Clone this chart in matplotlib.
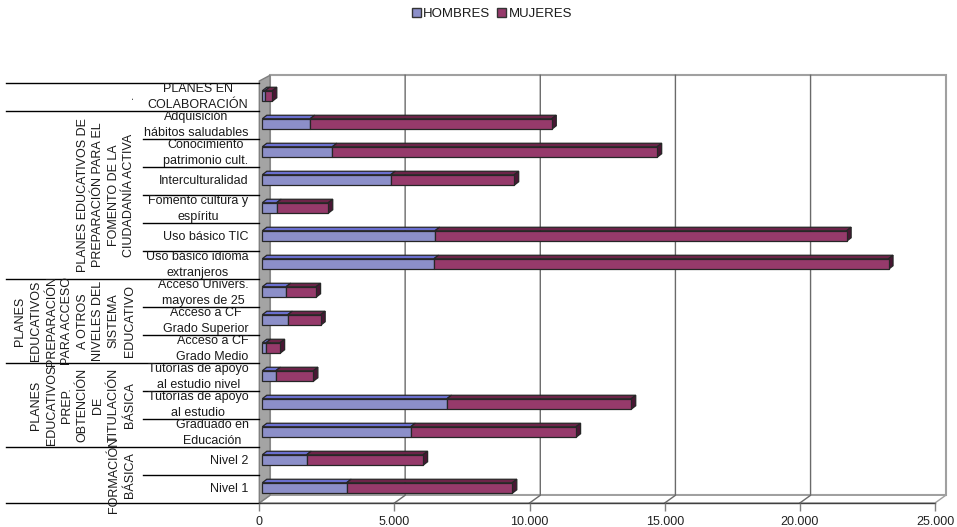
import numpy as np
import matplotlib.pyplot as plt
from matplotlib.patches import Polygon, Patch
from matplotlib import transforms

plt.rcParams['font.family'] = ['Liberation Sans', 'DejaVu Sans']

# categories from bottom to top
cats = ["Nivel 1", "Nivel 2", "Graduado en\nEducación",
        "Tutorías de apoyo\nal estudio", "Tutorías de apoyo\nal estudio nivel",
        "Acceso a CF\nGrado Medio", "Acceso a CF\nGrado Superior",
        "Acceso Univers.\nmayores de 25", "Uso básico idioma\nextranjeros",
        "Uso básico TIC", "Fomento cultura y\nespíritu", "Interculturalidad",
        "Conocimiento\npatrimonio cult.", "Adquisición\nhábitos saludables",
        "PLANES EN\nCOLABORACIÓN"]
hombres = [3120, 1640, 5490, 6830, 500, 140, 940, 880, 6350, 6390, 530, 4750, 2590, 1770, 100]
mujeres = [6130, 4310, 6120, 6820, 1390, 520, 1220, 1110, 16820, 15230, 1910, 4570, 12020, 8940, 270]

groups = ["FORMACIÓN\nBÁSICA",
          "PLANES\nEDUCATIVOS\nPREP.\nOBTENCIÓN\nDE\nTITULACIÓN\nBÁSICA",
          "PLANES\nEDUCATIVOS\nPREPARACIÓN\nPARA ACCESO\nA OTROS\nNIVELES DEL\nSISTEMA\nEDUCATIVO",
          "PLANES EDUCATIVOS DE\nPREPARACIÓN PARA EL\nFOMENTO DE LA\nCIUDADANÍA ACTIVA",
          "."]
group_sizes = [2, 3, 3, 6, 1]

ticks = [0, 5000, 10000, 15000, 20000, 25000]
tick_labels = ["0", "5.000", "10.000", "15.000", "20.000", "25.000"]

# colours: front, top, side
c_h = ("#8c8fc9", "#6a6fcf", "#3f4290")
c_m = ("#963a6b", "#6c2449", "#4a1634")
edge = "#262626"

W, H = 957, 527
fig = plt.figure(figsize=(W / 100, H / 100), dpi=100)

# front plane of the box in pixels
x0, x1 = 259.3, 935.0
y_top, y_bot = 83.0, 503.0
ax = fig.add_axes([x0 / W, 1 - y_bot / H, (x1 - x0) / W, (y_bot - y_top) / H])
n = len(cats)
xmax = ticks[-1]
ax.set_xlim(0, xmax)
ax.set_ylim(-0.5, n - 0.5)
ylo, yhi = -0.5, n - 0.5

ux = xmax / (x1 - x0)   # data units per pixel
uy = n / (y_bot - y_top)

DX, DY = 10.7 * ux, 7.7 * uy     # box depth
bx, by = 4.5 * ux, 3.5 * uy      # bar depth
fx, fy = 3.0 * ux, 1.0 * uy      # bar front face inset
bar_h = 10.5 * uy


def poly(pts, **kw):
    p = Polygon(pts, closed=True, clip_on=False, **kw)
    ax.add_patch(p)
    return p


# back wall, floor, grid, side wall
poly([(DX, ylo + DY), (xmax + DX, ylo + DY), (xmax + DX, yhi + DY), (DX, yhi + DY)],
     fc="white", ec="#a0a0a0", lw=1.5, zorder=0)
poly([(0, ylo), (xmax, ylo), (xmax + DX, ylo + DY), (DX, ylo + DY)],
     fc="white", ec="#a0a0a0", lw=1, zorder=0.2)
for v in ticks[1:-1]:
    ax.plot([v, v + DX, v + DX], [ylo, ylo + DY, yhi + DY], color="#6a6a6a",
            lw=1, clip_on=False, zorder=0.5)
poly([(0, ylo), (0, yhi + 2 * uy), (DX, yhi + DY), (DX, ylo + DY)],
     fc="#a4a4a4", ec="#7f7f7f", lw=1, zorder=0.6)
ax.plot([0, xmax], [ylo, ylo], color="#404040", lw=1, clip_on=False, zorder=0.7)

# 3d stacked bars
ys = np.arange(n) + fy
ax.barh(ys, hombres, left=fx, height=bar_h, color=c_h[0], edgecolor=edge, lw=0.9, zorder=3)
ax.barh(ys, mujeres, left=fx + np.array(hombres), height=bar_h, color=c_m[0],
        edgecolor=edge, lw=0.9, zorder=3)
for i in range(n):
    yt = ys[i] + bar_h / 2
    yb = ys[i] - bar_h / 2
    l = fx
    for val, col in ((hombres[i], c_h), (mujeres[i], c_m)):
        r = l + val
        poly([(l, yt), (r, yt), (r + bx, yt + by), (l + bx, yt + by)],
             fc=col[1], ec=edge, lw=0.9, zorder=2.5)
        l = r
    poly([(l, yb), (l, yt), (l + bx, yt + by), (l + bx, yb + by)],
         fc=c_m[2], ec=edge, lw=0.9, zorder=2.5)

ax.set_xticks(ticks, tick_labels)
ax.tick_params(axis="x", length=6, width=1, color="#808080", labelsize=9,
               labelcolor="#222222", pad=3.5)
ax.set_yticks([])
for s in ax.spines.values():
    s.set_visible(False)

# category table on the left
trans = transforms.blended_transform_factory(fig.transFigure, ax.transData)
bounds = np.cumsum([0] + group_sizes)
for b in range(n + 1):
    xs = 6 / W if b in bounds else 143 / W
    ax.plot([xs, x0 / W], [b - 0.5, b - 0.5], color="black", lw=1,
            transform=trans, clip_on=False, zorder=1)

for i, lab in enumerate(cats):
    ax.text(248.5 / W, i, lab, transform=trans, ha="right", va="center",
            multialignment="center", fontsize=9, linespacing=1.5, color="#1a1a1a")

for g, lab in enumerate(groups):
    yc = (bounds[g] + bounds[g + 1] - 1) / 2
    ax.text(135.5 / W, yc, lab, transform=trans, ha="right", va="center",
            rotation=90, multialignment="center", fontsize=9, linespacing=1.4,
            color="#1a1a1a")

handles = [Patch(fc=c_h[0], ec="#333333"), Patch(fc=c_m[0], ec="#333333")]
fig.legend(handles, ["HOMBRES", "MUJERES"], loc="center", bbox_to_anchor=(492 / W, 1 - 14 / H),
           ncol=2, frameon=False, fontsize=9.5, handlelength=0.7, handleheight=0.7,
           handletextpad=0.15, columnspacing=0.5, labelcolor="#1a1a1a")

fig.savefig("out.png", dpi=100)
